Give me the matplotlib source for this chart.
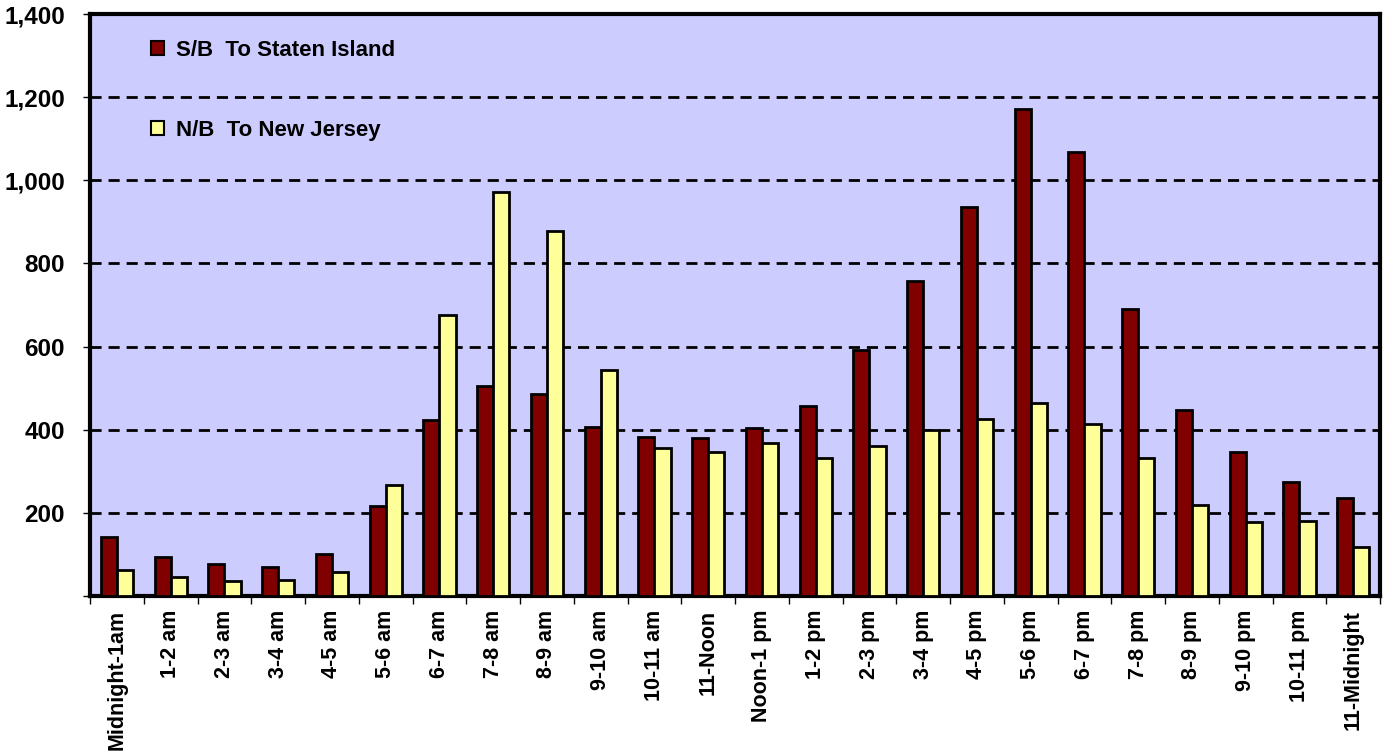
import numpy as np
import matplotlib
matplotlib.use("Agg")
import matplotlib.pyplot as plt
from matplotlib.patches import Patch
from matplotlib.ticker import FuncFormatter

# ── Data ────────────────────────────────────────────────────
HOURS = [
    "Midnight-1am", "1-2 am", "2-3 am", "3-4 am", "4-5 am", "5-6 am",
    "6-7 am", "7-8 am", "8-9 am", "9-10 am", "10-11 am", "11-Noon",
    "Noon-1 pm", "1-2 pm", "2-3 pm", "3-4 pm", "4-5 pm", "5-6 pm",
    "6-7 pm", "7-8 pm", "8-9 pm", "9-10 pm", "10-11 pm", "11-Midnight",
]
SOUTHBOUND = [143, 95, 77, 69, 100, 216, 424, 506, 487, 406, 383, 380,
              404, 456, 592, 758, 937, 1172, 1068, 691, 448, 346, 275, 237]
NORTHBOUND = [62, 46, 36, 38, 57, 268, 677, 972, 879, 543, 357, 346,
              369, 332, 362, 400, 426, 465, 413, 333, 218, 177, 180, 117]

SB_LABEL = "S/B  To Staten Island"
NB_LABEL = "N/B  To New Jersey"

# ── Style ───────────────────────────────────────────────────
BG_PLOT = "#CCCCFF"
RED     = "#800000"
YELLOW  = "#FFFF99"
EDGE    = "#000000"

plt.rcParams.update({
    "font.family": ["Liberation Sans", "DejaVu Sans"],
    "font.weight": "bold",
    "font.size":   15,
})

fig = plt.figure(figsize=(13.85, 7.54), dpi=100)
ax = fig.add_axes([0.065, 0.2095, 0.9314, 0.7719])
ax.set_facecolor(BG_PLOT)

x = np.arange(len(HOURS))
w = 0.3
ax.bar(x - w / 2, SOUTHBOUND, width=w, color=RED, edgecolor=EDGE,
       linewidth=2, zorder=3)
ax.bar(x + w / 2, NORTHBOUND, width=w, color=YELLOW, edgecolor=EDGE,
       linewidth=2, zorder=3)

ax.set_xlim(-0.5, len(HOURS) - 0.5)
ax.set_ylim(0, 1400)

# gridlines
for yv in range(200, 1400, 200):
    ax.axhline(yv, color="black", lw=2, ls=(0, (4, 2.5)), zorder=1)

ax.set_yticks(range(0, 1401, 200))
ax.yaxis.set_major_formatter(
    FuncFormatter(lambda v, _: "" if v == 0 else f"{v:,.0f}"))
ax.tick_params(axis="y", length=5, width=1, labelsize=17.5, pad=13)

ax.set_xticks(x)
ax.set_xticklabels(HOURS, rotation=90, fontsize=15.5, fontweight="bold")
ax.set_xticks(np.arange(-0.5, len(HOURS), 1), minor=True)
ax.tick_params(axis="x", which="major", length=0, pad=10)
ax.tick_params(axis="x", which="minor", length=6, width=1)

for side in ("left", "right", "top", "bottom"):
    ax.spines[side].set_linewidth(3)
    ax.spines[side].set_color("black")

handles = [Patch(facecolor=RED, edgecolor=EDGE, linewidth=1.5, label=SB_LABEL),
           Patch(facecolor=YELLOW, edgecolor=EDGE, linewidth=1.5, label=NB_LABEL)]
ax.legend(handles=handles, loc="upper left", bbox_to_anchor=(0.032, 0.99),
          frameon=False, handlelength=0.55, handleheight=0.55,
          handletextpad=0.55, labelspacing=2.65,
          prop={"weight": "bold", "size": 16})

fig.savefig("out.png", dpi=100, facecolor="white")
